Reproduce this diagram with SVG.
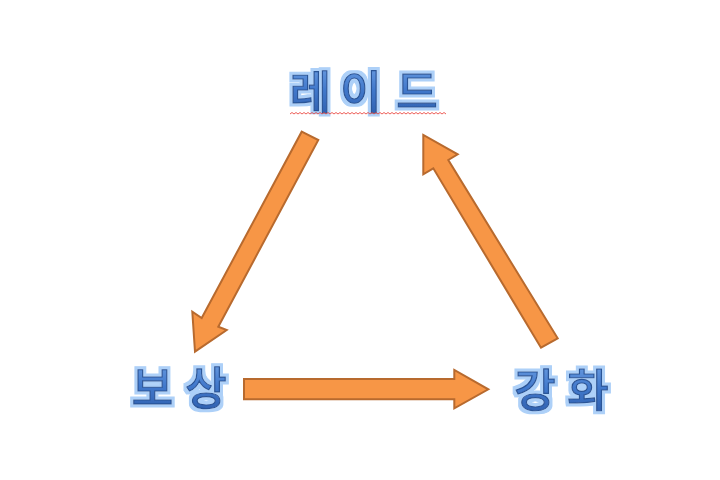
<svg xmlns="http://www.w3.org/2000/svg" width="720" height="480" viewBox="0 0 720 480">
<defs>
<linearGradient id="tg" x1="0" y1="0" x2="0" y2="1">
<stop offset="0" stop-color="#79a9e8"/>
<stop offset="0.5" stop-color="#4279cc"/>
<stop offset="1" stop-color="#2b5aa8"/>
</linearGradient>
<filter id="glow" x="-20%" y="-30%" width="140%" height="160%">
<feMorphology in="SourceAlpha" operator="dilate" radius="2.5" result="d"/>
<feFlood flood-color="#add0f8"/>
<feComposite in2="d" operator="in" result="g"/>
<feMerge><feMergeNode in="g"/><feMergeNode in="SourceGraphic"/></feMerge>
</filter>
<style>
.lbl{font-family:"Noto Sans CJK KR","Noto Sans",sans-serif;font-weight:500;font-size:45px;fill:url(#tg);stroke:#2a5597;stroke-width:1.2;text-anchor:middle;filter:url(#glow)}
.arr{fill:#f79646;stroke:#b86a2e;stroke-width:2;stroke-linejoin:miter}
</style>
</defs>
<g id="connectors">
<path class="arr" d="M301.7,131.7 L318.3,140 L218.3,326.7 L226.7,330 L195,351.7 L192.3,311.7 L201.7,318 Z"/>
<path class="arr" d="M244,379 L454.3,379 L454.3,370 L488.3,389.3 L454.3,408.3 L454.3,399.3 L244,399.3 Z"/>
<path class="arr" d="M557.7,338.3 L541,347.7 L433.3,168.3 L423.3,174.3 L423.3,135 L457.7,154.3 L448.3,160 Z"/>
</g>
<g id="node-raid">
<text class="lbl" x="310.5 361 417" y="108.5">레이드</text>
<path d="M290,114 l2,-1.5 l2,1.5 l2,-1.5 l2,1.5 l2,-1.5 l2,1.5 l2,-1.5 l2,1.5 l2,-1.5 l2,1.5 l2,-1.5 l2,1.5 l2,-1.5 l2,1.5 l2,-1.5 l2,1.5 l2,-1.5 l2,1.5 l2,-1.5 l2,1.5 l2,-1.5 l2,1.5 l2,-1.5 l2,1.5 l2,-1.5 l2,1.5 l2,-1.5 l2,1.5 l2,-1.5 l2,1.5 l2,-1.5 l2,1.5 l2,-1.5 l2,1.5 l2,-1.5 l2,1.5 l2,-1.5 l2,1.5 l2,-1.5 l2,1.5 l2,-1.5 l2,1.5 l2,-1.5 l2,1.5 l2,-1.5 l2,1.5 l2,-1.5 l2,1.5 l2,-1.5 l2,1.5 l2,-1.5 l2,1.5 l2,-1.5 l2,1.5 l2,-1.5 l2,1.5 l2,-1.5 l2,1.5 l2,-1.5 l2,1.5 l2,-1.5 l2,1.5 l2,-1.5 l2,1.5 l2,-1.5 l2,1.5 l2,-1.5 l2,1.5 l2,-1.5 l2,1.5 l2,-1.5 l2,1.5 l2,-1.5 l2,1.5 l2,-1.5 l2,1.5 l2,-1.5 l2,1.5" fill="none" stroke="#e8362f" stroke-width="0.8"/>
</g>
<g id="node-reward">
<text class="lbl" x="152.5 206" y="405">보상</text>
</g>
<g id="node-enhance">
<text class="lbl" x="535 588" y="407">강화</text>
</g>
</svg>
